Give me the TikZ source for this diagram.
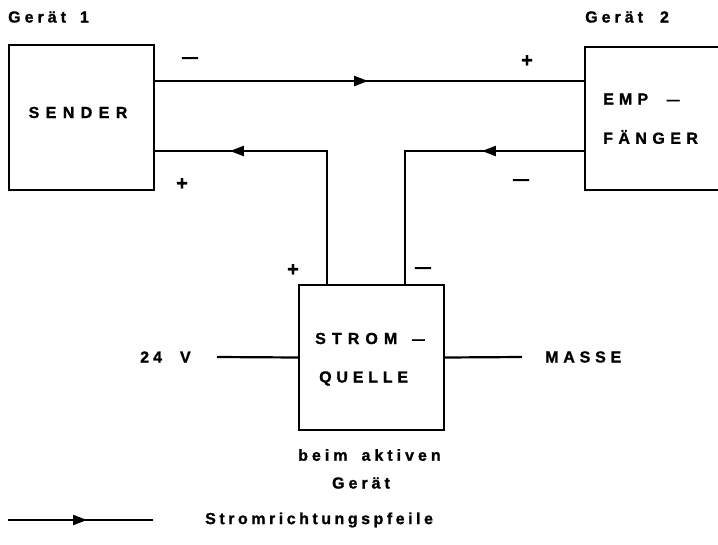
\documentclass[tikz,border=0pt]{standalone}
\usepackage{fontspec}
\setmainfont{Liberation Sans}[LetterSpace=25,UprightFont={* Bold},BoldFont={* Bold},FakeBold=1.2]
\usetikzlibrary{arrows.meta,decorations.markings}
\tikzset{
  box/.style={draw,line width=2.2pt,minimum width=145pt,minimum height=145pt,inner sep=0pt},
  wire/.style={line width=2.2pt},
  lab/.style={font=\fontsize{16}{19}\selectfont,inner sep=0pt},
  wide/.style={font=\fontsize{16}{19}\selectfont\addfontfeature{LetterSpace=#1}},
  sign/.style={font=\fontsize{20}{23}\selectfont,inner sep=0pt}
}
\newcommand{\dashsign}{\scalebox{1.6}[0.9]{–}}
\tikzset{
  midarrow/.style={postaction={decorate},decoration={markings,mark=at position #1 with {\arrow{Triangle[length=14pt,width=10pt]}}}}
}
\begin{document}
\begin{tikzpicture}[x=1pt,y=-1pt]
\useasboundingbox (0,0) rectangle (718,544);
\clip (0,0) rectangle (718,544);
% boxes
\node[box] (sender) at (81.5,117.5) {};
\node[box,minimum width=160pt,minimum height=143pt] (empf) at (665,118.5) {};
\node[box] (quelle) at (371.5,357.5) {};
% texts
\node[lab,anchor=west] (g1) at (8,17) {Gerät\hspace{14pt}1};
\node[lab,anchor=west] (g2) at (585,17) {Gerät\hspace{17pt}2};
\node[lab,wide=40] (tsender) at (78,112.5) {SENDER};
\node[lab,wide=32,anchor=west] (temp) at (603,99) {EMP\hspace{18pt}\dashsign};
\node[lab,wide=34,anchor=west] (tfaeng) at (603,137) {FÄNGER};
\node[lab,wide=38,anchor=west] (tstrom) at (315,338.5) {STROM\hspace{14pt}\dashsign};
\node[lab,wide=30,anchor=west] (tquelle) at (319,378.5) {QUELLE};
\node[lab,anchor=west] (t24) at (140,357) {24\hspace{18pt}V};
\node[lab,wide=30,anchor=west] (tmasse) at (545,357) {MASSE};
\node[lab,anchor=west] (tbeim) at (298,455) {beim\hspace{14pt}aktiven};
\node[lab] (tgeraet) at (361,483) {Gerät};
\node[lab,wide=22,anchor=west] (tlegend) at (205,520) {Stromrichtungspfeile};
% polarity signs
\node[sign] (m1) at (190,60) {\dashsign};
\node[sign] (p1) at (527,61) {+};
\node[sign] (p2) at (182,184) {+};
\node[sign] (m2) at (521,182) {\dashsign};
\node[sign] (p3) at (293,270) {+};
\node[sign] (m3) at (423,270) {\dashsign};
% wire coordinates
\coordinate (s1) at (sender.east |- 0,81);
\coordinate (e1) at (empf.west |- 0,81);
\coordinate (s2) at (sender.east |- 0,151);
\coordinate (e2) at (empf.west |- 0,151);
\coordinate (c1) at (327,151);
\coordinate (c2) at (405,151);
\coordinate (q1) at (quelle.north -| c1);
\coordinate (q2) at (quelle.north -| c2);
\coordinate (v24) at (217,357);
\coordinate (vm) at (522,357);
\coordinate (l1) at (8,520);
\coordinate (l2) at (153,520);
% wires
\draw[wire,midarrow=213pt] (s1) -- (e1);
\draw[wire,midarrow=230pt] (q1) -- (c1) -- (s2);
\draw[wire,midarrow=102pt] (e2) -- (c2) -- (q2);
\draw[wire] (v24) -- (quelle.west);
\draw[wire] (quelle.east) -- (vm);
\draw[wire,midarrow=79pt] (l1) -- (l2);
\end{tikzpicture}
\end{document}
